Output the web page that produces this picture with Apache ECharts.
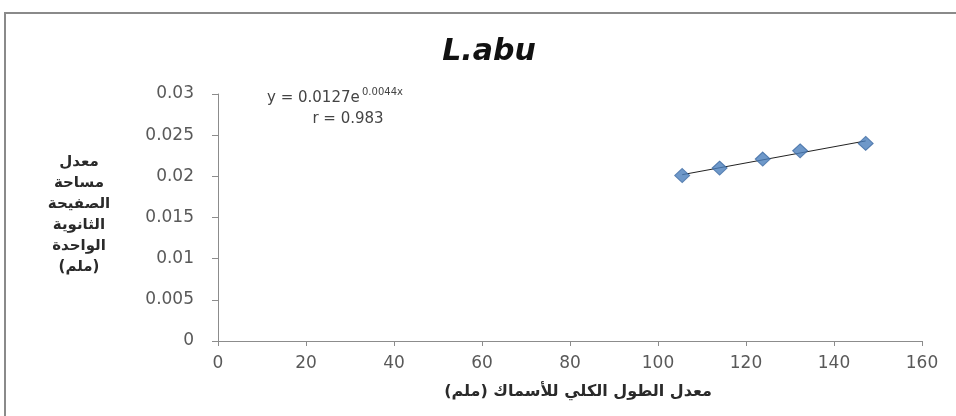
<!DOCTYPE html>
<html>
<head>
<meta charset="utf-8">
<script src="https://cdn.jsdelivr.net/npm/echarts@6/dist/echarts.min.js"></script>
<style>
html,body{margin:0;padding:0;background:#fff;}
#chart{width:956px;height:416px;}
</style>
</head>
<body>
<div id="chart"></div>
<script>
// Data
var lengths = [105.5, 114, 123.8, 132.3, 147.2];
var areas = [0.0201, 0.0210, 0.0221, 0.0231, 0.0240];
var trendX = [105.5, 147.2];
var trendY = [0.0202, 0.0243];
var xTicks = [0, 20, 40, 60, 80, 100, 120, 140, 160];
var yTicks = [0, 0.005, 0.01, 0.015, 0.02, 0.025, 0.03];
var titleText = 'L.abu';
var eqMain = 'y = 0.0127e';
var eqSup = '0.0044x';
var rText = 'r = 0.983';
var xTitle = 'معدل الطول الكلي للأسماك (ملم)';
var yTitleLines = ['معدل', 'مساحة', 'الصفيحة', 'الثانوية', 'الواحدة', '(ملم)'];

var points = lengths.map(function (x, i) { return [x, areas[i]]; });
var trend = trendX.map(function (x, i) { return [x, trendY[i]]; });

var chart = echarts.init(document.getElementById('chart'));
var labelFont = 'DejaVu Sans';
var axisColor = '#8c8c8c';

var yTitleGraphics = yTitleLines.map(function (t, i) {
  return {
    type: 'text', x: 79, y: 162 + i * 21,
    style: { text: t, font: 'bold 15px "DejaVu Sans"', fill: '#2a2a2a', align: 'center', verticalAlign: 'middle' }
  };
});

chart.setOption({
  backgroundColor: '#fff',
  animation: false,
  grid: { left: 218, right: 34, top: 94, bottom: 75 },
  xAxis: {
    type: 'value', min: xTicks[0], max: xTicks[xTicks.length - 1], interval: 20,
    splitLine: { show: false },
    axisLine: { lineStyle: { color: axisColor, width: 1 } },
    axisTick: { show: true, length: 5, lineStyle: { color: axisColor } },
    axisLabel: { color: '#595959', fontFamily: labelFont, fontSize: 17, margin: 14 }
  },
  yAxis: {
    type: 'value', min: yTicks[0], max: yTicks[yTicks.length - 1], interval: 0.005,
    splitLine: { show: false },
    axisLine: { show: true, lineStyle: { color: axisColor, width: 1 } },
    axisTick: { show: true, length: 6, lineStyle: { color: axisColor } },
    axisLabel: {
      color: '#595959', fontFamily: labelFont, fontSize: 17, margin: 24,
      formatter: function (v) { return String(parseFloat(v.toFixed(4))); }
    }
  },
  series: [
    {
      type: 'line', data: trend, symbol: 'none', silent: true,
      lineStyle: { color: '#222', width: 1 }, z: 2
    },
    {
      type: 'scatter', data: points, symbol: 'diamond', symbolSize: [15, 14],
      itemStyle: { color: '#4a7ebb', borderColor: '#3d6aa3', borderWidth: 1 }, z: 3
    }
  ],
  graphic: [
    {
      type: 'rect', shape: { x: 5, y: 13, width: 1000, height: 500 },
      style: { fill: 'none', stroke: '#8a8a8a', lineWidth: 2 }, silent: true, z: -1
    },
    {
      type: 'text', x: 489, y: 52,
      style: { text: titleText, font: 'italic bold 30px "DejaVu Sans"', fill: '#111', align: 'center', verticalAlign: 'middle' }
    },
    {
      type: 'text', x: 267, y: 98,
      style: { text: eqMain, font: '15px "DejaVu Sans"', fill: '#444', align: 'left', verticalAlign: 'middle' }
    },
    {
      type: 'text', x: 362, y: 92,
      style: { text: eqSup, font: '10px "DejaVu Sans"', fill: '#444', align: 'left', verticalAlign: 'middle' }
    },
    {
      type: 'text', x: 348, y: 119,
      style: { text: rText, font: '15px "DejaVu Sans"', fill: '#444', align: 'center', verticalAlign: 'middle' }
    },
    {
      type: 'text', x: 578, y: 392,
      style: { text: xTitle, font: 'bold 16px "DejaVu Sans"', fill: '#2a2a2a', align: 'center', verticalAlign: 'middle' }
    }
  ].concat(yTitleGraphics)
});
</script>
</body>
</html>
